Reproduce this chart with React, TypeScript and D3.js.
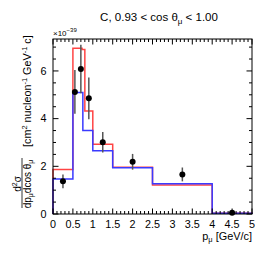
import React from "react";
import * as d3 from "d3";

const redEdges = [0, 0.5, 0.73, 0.8, 1.0, 1.5, 2.5, 4.0, 5.0];
const redValues = [1.87, 6.95, 6.9, 4.32, 2.93, 1.96, 1.22, 0.03];
const blueEdges = [0, 0.5, 0.75, 1.0, 1.5, 2.5, 4.0, 5.0];
const blueValues = [1.47, 5.1, 3.5, 2.65, 1.94, 1.27, 0.03];

const dataX = [0.25, 0.55, 0.7, 0.9, 1.25, 2.0, 3.25, 4.5];
const dataY = [1.37, 5.12, 6.08, 4.85, 3.01, 2.19, 1.66, 0.05];
const dataErr = [0.29, 0.92, 1.02, 0.88, 0.43, 0.33, 0.29, 0.05];

const xTicks = [0, 0.5, 1, 1.5, 2, 2.5, 3, 3.5, 4, 4.5, 5];
const xTickLabels = ["0", "0.5", "1", "1.5", "2", "2.5", "3", "3.5", "4", "4.5", "5"];
const yTicks = [0, 2, 4, 6];
const yTickLabels = ["0", "2", "4", "6"];

const FONT = "'Liberation Sans', Arial, Helvetica, sans-serif";

export default function App() {
  const L = 53, R = 252, T = 39, B = 214;
  const x = d3.scaleLinear().domain([0, 5]).range([L, R]);
  const y = d3.scaleLinear().domain([0, 7.34]).range([B, T]);

  const histPath = (edges: number[], vals: number[]) => {
    const pts: [number, number][] = [[edges[0], 0]];
    vals.forEach((v, i) => {
      pts.push([edges[i], v]);
      pts.push([edges[i + 1], v]);
    });
    pts.push([edges[edges.length - 1], 0]);
    return d3.line<[number, number]>().x((d) => x(d[0])).y((d) => y(d[1]))(pts) || "";
  };

  const xMinor = d3.range(0, 5.0001, 0.1);
  const yMinor = d3.range(0, 7.3, 0.5);

  return (
    <svg width={266} height={253} style={{ display: "block", position: "absolute", left: 0, top: 0 }} fontFamily={FONT}>
      <rect x={0} y={0} width={266} height={253} fill="#fff" />
      {/* title */}
      <text x={159} y={21} fontSize={11.5} textAnchor="middle" fill="#000">
        C, 0.93 &lt; cos θ<tspan fontSize={8} dy={2.5}>μ</tspan>
        <tspan dy={-2.5}> &lt; 1.00</tspan>
      </text>
      {/* exponent */}
      <text x={53} y={35.5} fontSize={8} fill="#000">
        ×10<tspan fontSize={6} dy={-3.5}>−39</tspan>
      </text>

      {/* histograms */}
      <path d={histPath(redEdges, redValues)} fill="none" stroke="#ff4444" strokeWidth={1.5} />
      <path d={histPath(blueEdges, blueValues)} fill="none" stroke="#3a3aff" strokeWidth={1.5} />

      {/* data */}
      {dataX.map((dx, i) => (
        <g key={i}>
          <line x1={x(dx)} x2={x(dx)} y1={y(dataY[i] - dataErr[i])} y2={y(dataY[i] + dataErr[i])} stroke="#555" strokeWidth={1.5} />
          <circle cx={x(dx)} cy={y(dataY[i])} r={3} fill="#000" />
        </g>
      ))}

      {/* frame */}
      <rect x={L} y={T} width={R - L} height={B - T} fill="none" stroke="#000" strokeWidth={1} />

      {/* x ticks */}
      {xMinor.map((t, i) => {
        const major = Math.abs(t * 2 - Math.round(t * 2)) < 1e-6;
        const len = major ? 5.5 : 3;
        return (
          <g key={"xm" + i} stroke="#000" strokeWidth={1}>
            <line x1={x(t)} x2={x(t)} y1={B} y2={B - len} />
            <line x1={x(t)} x2={x(t)} y1={T} y2={T + len} />
          </g>
        );
      })}
      {yMinor.map((t, i) => {
        const major = Math.abs(t / 2 - Math.round(t / 2)) < 1e-6;
        const len = major ? 5.5 : 3;
        return (
          <g key={"ym" + i} stroke="#000" strokeWidth={1}>
            <line x1={L} x2={L + len} y1={y(t)} y2={y(t)} />
            <line x1={R} x2={R - len} y1={y(t)} y2={y(t)} />
          </g>
        );
      })}

      {xTicks.map((t, i) => (
        <text key={"xt" + i} x={x(t)} y={227.5} fontSize={10.8} textAnchor="middle" fill="#000">
          {xTickLabels[i]}
        </text>
      ))}
      {yTicks.map((t, i) => (
        <text key={"yt" + i} x={46.5} y={y(t) + 3.8} fontSize={10.8} textAnchor="end" fill="#000">
          {yTickLabels[i]}
        </text>
      ))}

      {/* x label */}
      <text x={252} y={239.5} fontSize={10.9} textAnchor="end" fill="#000">
        p<tspan fontSize={7.5} dy={2.5}>μ</tspan>
        <tspan dy={-2.5}> [GeV/c]</tspan>
      </text>

      {/* y label */}
      <g transform="rotate(-90)">
        <text x={-184} y={20.5} fontSize={10} textAnchor="middle" fill="#000">
          d<tspan fontSize={7} dy={-3.5}>2</tspan>
          <tspan dy={3.5}>σ</tspan>
        </text>
        <line x1={-208} x2={-158} y1={22} y2={22} stroke="#000" strokeWidth={0.8} />
        <text x={-184} y={30.5} fontSize={10} textAnchor="middle" fill="#000">
          dp<tspan fontSize={7} dy={2.2}>μ</tspan>
          <tspan dy={-2.2}>dcos θ</tspan>
          <tspan fontSize={7} dy={2.2}>μ</tspan>
        </text>
        <text x={-147} y={31} fontSize={10.8} textAnchor="start" fill="#000">
          [cm<tspan fontSize={7.5} dy={-4}>2</tspan>
          <tspan dy={4}> nucleon</tspan>
          <tspan fontSize={7.5} dy={-4}>-1</tspan>
          <tspan dy={4}> GeV</tspan>
          <tspan fontSize={7.5} dy={-4}>-1</tspan>
          <tspan dy={4}> c]</tspan>
        </text>
      </g>
    </svg>
  );
}
